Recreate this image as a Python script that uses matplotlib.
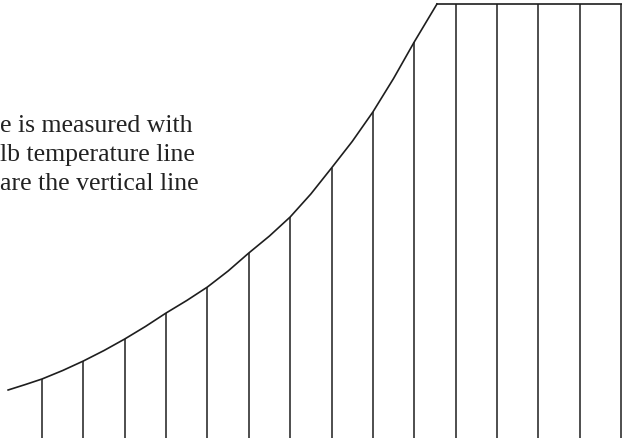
import numpy as np
import matplotlib
matplotlib.use("Agg")
import matplotlib.pyplot as plt

# dry-bulb temperature lines (vertical)
dry_bulb = [0, 5, 10, 15, 20, 25, 30, 35, 40, 45, 50, 55, 60, 65, 70]

# saturation curve (temperature, humidity)
sat_temp = [-4.1, -2, 0, 2.5, 5, 7.5, 10, 12.5, 15, 17.5, 20, 22.5, 25,
            27.5, 30, 32.5, 35, 37.5, 40, 42.5, 45, 47.75]
sat_hum = [4.8, 5.35, 5.9, 6.75, 7.7, 8.75, 9.9, 11.15, 12.5, 13.75, 15.1,
           16.7, 18.5, 20.2, 22.1, 24.4, 27.0, 29.65, 32.6, 35.95, 39.6, 43.4]

# top of the chart, flat after the curve
top_temp = [47.75, 70.2]
top_hum = [43.4, 43.4]

text_lines = ["e is measured with",
              "lb temperature line",
              "are the vertical line"]

ink = "#1e1e1e"

fig = plt.figure(figsize=(6.22, 4.38), dpi=100)
ax = fig.add_axes([0, 0, 1, 1])
ax.set_xlim(-5.08, 70.12)
ax.set_ylim(0, 43.8)
ax.axis("off")

# vertical lines go up to the curve, or the top line past it
all_t = sat_temp + top_temp[1:]
all_h = sat_hum + top_hum[1:]
tops = np.interp(dry_bulb, all_t, all_h)
ax.vlines(dry_bulb, 0, tops, color=ink, lw=1.1)

ax.plot(sat_temp, sat_hum, color=ink, lw=1.2, solid_joinstyle="round")
ax.plot(top_temp, top_hum, color=ink, lw=1.2)

# cut-off caption on the left
baselines = [0.699, 0.632, 0.566]
for s, y in zip(text_lines, baselines):
    fig.text(0.0, y, s, fontsize=18.5, family="Liberation Serif",
             color="#222222", va="baseline", ha="left")

fig.savefig("out.png", dpi=100)
